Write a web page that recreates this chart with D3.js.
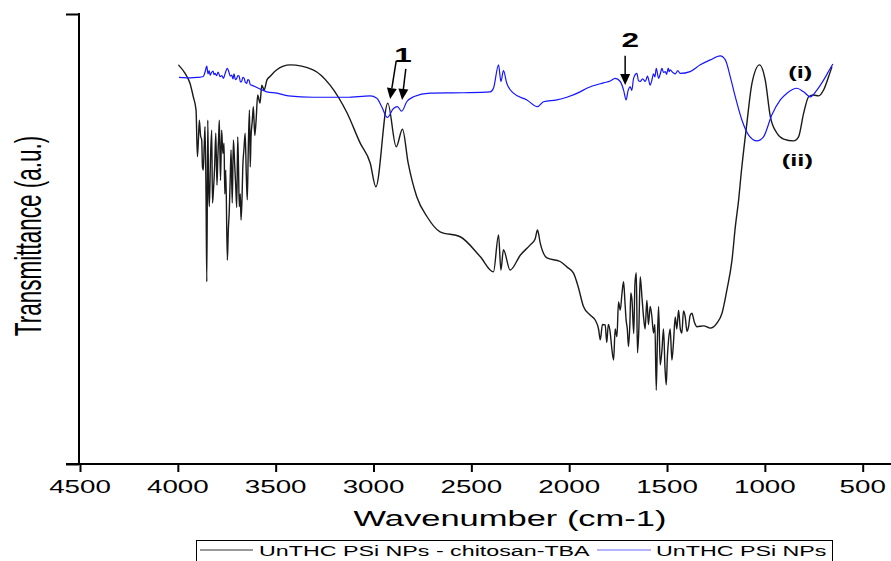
<!DOCTYPE html>
<html>
<head>
<meta charset="utf-8">
<script src="https://cdn.jsdelivr.net/npm/d3@7"></script>
<style>
  html, body { margin: 0; padding: 0; background: #fff; }
  svg { display: block; }
  text { font-family: "Liberation Sans", Arial, sans-serif; fill: #000; }
</style>
</head>
<body>
<div id="chart"></div>
<script>
// ---- Data (wavenumber cm-1, transmittance a.u.) ----
const xTicks = [4500, 4000, 3500, 3000, 2500, 2000, 1500, 1000, 500];
const seriesNames = ["UnTHC PSi NPs - chitosan-TBA", "UnTHC PSi NPs"];

const chitosanTBA = [[3997,88.7],[3963,86.8],[3938,84.6],[3921,81.6],[3907,78.7],[3900,68.3],[3895,72.0],[3890,76.4],[3884,73.0],[3878,72.0],[3874,66.0],[3870,65.3],[3865,71.0],[3861,75.0],[3856,60.0],[3852,40.5],[3847,76.4],[3843,62.0],[3839,57.2],[3833,68.0],[3827,74.2],[3823,58.0],[3818,60.9],[3812,66.0],[3806,73.5],[3800,62.0],[3796,67.6],[3792,72.0],[3788,76.4],[3782,63.0],[3776,74.2],[3770,69.0],[3764,71.3],[3760,60.0],[3755,65.3],[3747,45.3],[3742,52.0],[3737,56.4],[3732,64.0],[3728,69.8],[3722,58.0],[3716,72.0],[3710,67.0],[3704,61.6],[3699,57.0],[3694,72.7],[3690,66.0],[3686,57.2],[3681,60.0],[3677,54.2],[3672,59.0],[3668,66.1],[3662,70.0],[3656,73.5],[3650,64.0],[3645,58.7],[3640,70.0],[3634,78.7],[3630,66.0],[3626,72.7],[3620,76.0],[3614,79.4],[3607,73.0],[3600,76.4],[3592,82.0],[3580,80.2],[3571,84.2],[3559,83.1],[3545,85.3],[3529,86.1],[3494,87.6],[3461,88.4],[3426,88.7],[3309,87.6],[3222,84.2],[3135,78.0],[3068,71.3],[3017,66.9],[2988,61.6],[2927,80.2],[2884,70.5],[2852,74.4],[2823,66.9],[2779,59.4],[2727,55.0],[2660,51.6],[2557,50.5],[2455,46.1],[2387,42.7],[2361,50.9],[2349,43.1],[2336,47.6],[2302,43.1],[2250,46.4],[2199,48.7],[2174,50.0],[2162,52.0],[2148,49.1],[2114,45.8],[2046,45.0],[2012,43.8],[1978,42.4],[1954,39.4],[1927,35.0],[1893,33.1],[1867,32.0],[1850,30.0],[1841,27.6],[1830,31.0],[1816,30.9],[1808,27.0],[1800,31.0],[1790,29.1],[1783,26.0],[1773,23.1],[1765,30.0],[1756,28.3],[1748,36.0],[1739,34.2],[1730,38.0],[1722,40.5],[1715,36.0],[1709,32.0],[1703,30.0],[1697,26.1],[1690,31.0],[1685,38.0],[1679,36.4],[1670,29.0],[1664,40.0],[1657,42.5],[1651,24.7],[1644,30.0],[1637,41.6],[1628,37.0],[1620,32.7],[1612,30.0],[1603,36.4],[1595,31.0],[1586,35.0],[1578,33.0],[1569,29.1],[1562,31.0],[1555,16.4],[1549,28.0],[1543,35.0],[1535,22.0],[1526,25.3],[1518,30.0],[1510,21.0],[1504,17.6],[1498,24.0],[1492,27.6],[1484,30.0],[1475,23.1],[1467,27.0],[1458,32.7],[1450,30.0],[1441,34.2],[1432,30.0],[1424,29.1],[1416,34.0],[1407,32.7],[1398,29.5],[1390,30.5],[1382,33.0],[1373,33.5],[1360,31.5],[1347,30.5],[1313,30.7],[1279,30.2],[1245,31.3],[1219,33.5],[1194,38.7],[1168,45.3],[1151,52.7],[1134,58.7],[1121,64.6],[1092,75.7],[1066,84.6],[1027,88.7],[998,85.3],[972,77.2],[938,73.5],[904,72.2],[853,71.8],[828,72.7],[802,77.9],[776,81.6],[751,82.0],[725,81.8],[700,83.1],[674,86.1],[657,88.3]];

const psiNPs = [[3994,85.9],[3938,85.8],[3900,85.9],[3870,86.1],[3861,87.1],[3852,88.4],[3846,86.7],[3840,87.4],[3835,86.4],[3828,87.0],[3820,87.3],[3815,86.5],[3810,86.8],[3802,86.3],[3794,87.1],[3784,86.1],[3775,86.3],[3767,85.7],[3759,86.7],[3747,87.9],[3739,87.1],[3732,86.2],[3725,86.4],[3718,85.6],[3713,86.7],[3706,85.4],[3699,85.7],[3693,86.3],[3687,86.2],[3680,84.9],[3674,85.0],[3668,85.9],[3662,85.8],[3655,84.8],[3648,84.6],[3642,85.4],[3636,85.3],[3630,84.3],[3623,84.2],[3588,83.5],[3545,82.7],[3494,82.4],[3435,81.8],[3309,81.5],[3137,81.5],[3017,81.8],[2983,81.3],[2958,79.4],[2929,77.0],[2898,79.0],[2878,79.4],[2856,78.4],[2830,80.5],[2796,81.6],[2711,82.4],[2540,82.5],[2404,82.7],[2387,83.5],[2361,88.7],[2349,85.0],[2336,87.4],[2319,84.6],[2285,82.4],[2216,80.9],[2162,79.4],[2131,80.5],[2063,80.9],[2012,81.5],[1944,82.7],[1910,83.5],[1825,84.7],[1790,85.1],[1765,85.7],[1739,85.0],[1722,83.1],[1709,80.9],[1700,82.8],[1688,83.8],[1680,83.0],[1671,85.7],[1654,86.8],[1646,85.2],[1637,85.0],[1625,85.6],[1611,85.0],[1600,86.2],[1586,84.2],[1578,85.2],[1569,86.7],[1562,86.0],[1555,87.9],[1543,85.7],[1535,86.6],[1526,87.9],[1518,87.0],[1509,87.2],[1502,86.6],[1494,88.0],[1489,87.2],[1484,87.6],[1470,87.0],[1458,86.7],[1445,87.4],[1433,86.8],[1382,87.2],[1330,88.7],[1279,89.8],[1228,90.7],[1202,89.8],[1177,86.1],[1151,81.6],[1117,76.4],[1083,73.1],[1040,71.8],[1007,72.7],[964,77.6],[921,80.9],[887,82.4],[836,83.5],[802,82.7],[768,81.6],[734,83.1],[700,85.3],[666,87.9],[652,88.9]];

// annotations in data space
const arrows = [ // [tailW, tailT, tipW, tipT]
  [2884, 89.6, 2915, 81.1],
  [2835, 87.8, 2854, 80.9],
  [1714, 90.7, 1714, 84.2]
];
const labels = [ // [text, w, t, size, weight]
  ["1", 2849, 89.3, 21, "bold"],
  ["2", 1688, 92.7, 21, "bold"],
  ["(i)", 819, 85.8, 17, "bold"],
  ["(ii)", 834, 66.2, 17, "bold"]
];

// ---- Layout ----
const W = 891, H = 561;
const SX = 1.5; // horizontal text stretch of the original
const svg = d3.select("#chart").append("svg").attr("width", W).attr("height", H);

const x = d3.scaleLinear().domain([4500, 500]).range([80, 862.7]);
const y = d3.scaleLinear().domain([0, 100]).range([464, 14]);

function stext(t, px, py, size, opts = {}) {
  const sx = opts.sx || SX;
  return svg.append("text")
    .attr("transform", `translate(${px},${py}) scale(${sx},1)` + (opts.rotate ? ` rotate(${opts.rotate})` : ""))
    .attr("text-anchor", opts.anchor || "middle")
    .attr("font-size", size)
    .attr("font-weight", opts.weight || "normal")
    .text(t);
}

// ---- Axes ----
const xAxis = d3.axisBottom(x).tickValues(xTicks).tickSize(8).tickSizeOuter(0).tickFormat("");
const gx = svg.append("g").attr("transform", "translate(0,464)").call(xAxis);
gx.select(".domain").remove();
gx.selectAll(".tick line").attr("stroke", "#000").attr("stroke-width", 2);
svg.append("line").attr("x1", 66).attr("x2", 891).attr("y1", 464).attr("y2", 464)
  .attr("stroke", "#000").attr("stroke-width", 2);

xTicks.forEach(v => stext(String(v), x(v), 493, 18.5));

const yAxis = d3.axisLeft(y).tickValues([0, 100]).tickSize(13).tickSizeOuter(0).tickFormat("");
const gy = svg.append("g").attr("transform", "translate(79,0)").call(yAxis);
gy.select(".domain").remove();
gy.selectAll(".tick line").attr("stroke", "#000").attr("stroke-width", 2);
svg.append("line").attr("x1", 79).attr("x2", 79).attr("y1", 13).attr("y2", 465)
  .attr("stroke", "#000").attr("stroke-width", 2);

// Axis titles
stext("Wavenumber (cm-1)", 510, 526, 23);
stext("Transmittance (a.u.)", 41, 236, 22.5, { rotate: -90, sx: 1.65 });

// ---- Lines ----
const line = d3.line().x(d => x(d[0])).y(d => y(d[1])).curve(d3.curveMonotoneX);
svg.append("path").datum(chitosanTBA).attr("d", line)
  .attr("fill", "none").attr("stroke", "#1a1a1a").attr("stroke-width", 1.4).attr("stroke-linejoin", "round");
svg.append("path").datum(psiNPs).attr("d", line)
  .attr("fill", "none").attr("stroke", "#1515ff").attr("stroke-width", 1.2).attr("stroke-linejoin", "round");

// ---- Annotations ----
arrows.forEach(a => {
  const x0 = x(a[0]), y0 = y(a[1]), x1 = x(a[2]), y1 = y(a[3]);
  const dx = x1 - x0, dy = y1 - y0, L = Math.hypot(dx, dy);
  const ux = dx / L, uy = dy / L, hl = 11, hw = 5;
  const bx = x1 - ux * hl, by = y1 - uy * hl;
  svg.append("line").attr("x1", x0).attr("y1", y0).attr("x2", bx).attr("y2", by)
    .attr("stroke", "#000").attr("stroke-width", 1.5);
  svg.append("path")
    .attr("d", `M${x1},${y1}L${bx - uy * hw},${by + ux * hw}L${bx + uy * hw},${by - ux * hw}Z`)
    .attr("fill", "#000");
});
labels.forEach(l => stext(l[0], x(l[1]), y(l[2]), l[3], { weight: l[4] }));

// ---- Legend ----
svg.append("rect").attr("x", 196.5).attr("y", 540.5).attr("width", 636).attr("height", 30)
  .attr("fill", "#fff").attr("stroke", "#000").attr("stroke-width", 1);
svg.append("line").attr("x1", 200).attr("x2", 253).attr("y1", 550).attr("y2", 550)
  .attr("stroke", "#777").attr("stroke-width", 1.5);
stext(seriesNames[0], 259, 555.5, 15.5, { anchor: "start" });
svg.append("line").attr("x1", 597).attr("x2", 651).attr("y1", 550).attr("y2", 550)
  .attr("stroke", "#9a9aff").attr("stroke-width", 1.5);
stext(seriesNames[1], 656, 555.5, 15.5, { anchor: "start" });
</script>
</body>
</html>
